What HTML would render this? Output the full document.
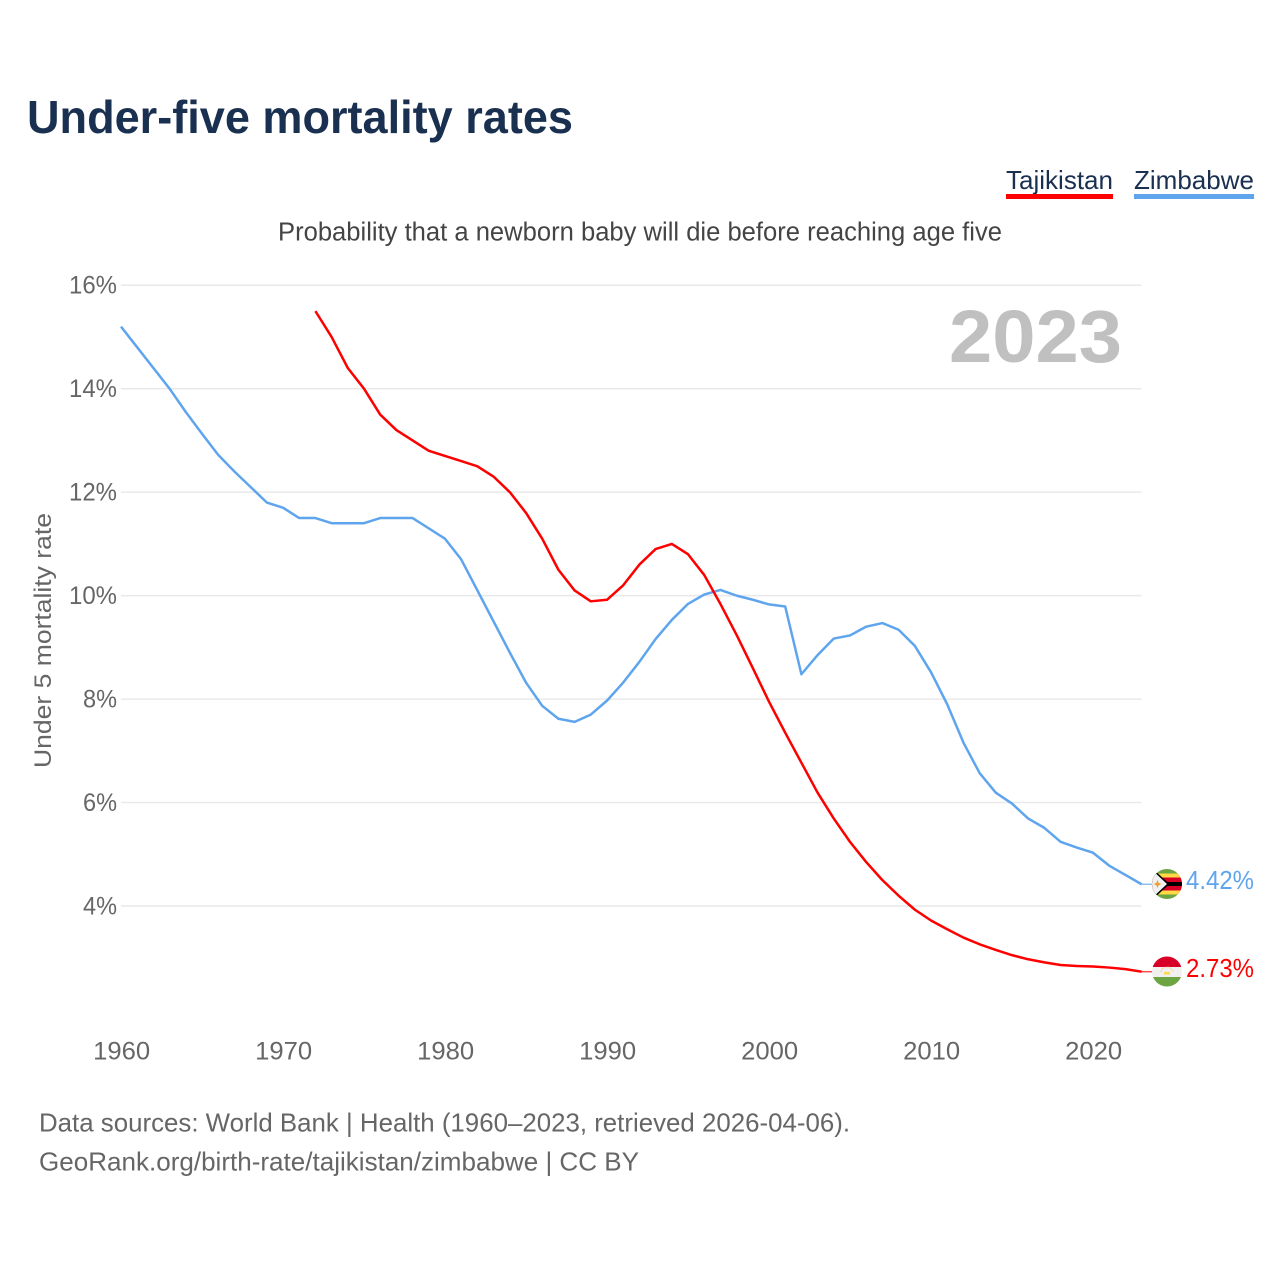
<!DOCTYPE html>
<html lang="en">
<head>
<meta charset="utf-8">
<title>Under-five mortality rates</title>
<style>
html,body{margin:0;padding:0;background:#fff;width:1280px;height:1280px;overflow:hidden}
svg{display:block}
text{font-family:"Liberation Sans",sans-serif}
</style>
</head>
<body>
<svg id="chart" xmlns="http://www.w3.org/2000/svg" width="1280" height="1280" viewBox="0 0 1280 1280">
  <defs>
    <clipPath id="flag-clip-zw"><circle cx="1167" cy="884" r="15"/></clipPath>
    <clipPath id="flag-clip-tj"><circle cx="1167" cy="971.5" r="15"/></clipPath>
  </defs>
  <text x="27" y="133" font-size="46" font-weight="700" fill="#1a3050" textLength="546" lengthAdjust="spacingAndGlyphs">Under-five mortality rates</text>

  <g>
    <text x="1006" y="189" font-size="26" fill="#1a3050" textLength="107" lengthAdjust="spacingAndGlyphs">Tajikistan</text>
    <rect x="1006" y="194" width="107" height="5" fill="#ff0000"/>
  </g>
  <g>
    <text x="1134" y="189" font-size="26" fill="#1a3050" textLength="120" lengthAdjust="spacingAndGlyphs">Zimbabwe</text>
    <rect x="1134" y="194" width="120" height="5" fill="#5fa5ee"/>
  </g>

  <text x="278" y="240.5" font-size="25.5" fill="#444" textLength="724" lengthAdjust="spacingAndGlyphs">Probability that a newborn baby will die before reaching age five</text>

  <g id="grid"></g>
  <g id="y-ticks"></g>
  <g id="x-ticks"></g>

  <text transform="translate(51,640.5) rotate(-90)" text-anchor="middle" font-size="24.5" fill="#666" textLength="255" lengthAdjust="spacingAndGlyphs">Under 5 mortality rate</text>

  <text x="949" y="362" font-size="74" font-weight="700" fill="#c0c0c0" textLength="173" lengthAdjust="spacingAndGlyphs">2023</text>

  <g id="series"></g>

  <g clip-path="url(#flag-clip-zw)">
    <rect x="1152" y="869" width="30" height="30" fill="#6da544"/>
    <rect x="1152" y="873.5" width="30" height="21" fill="#ffda44"/>
    <rect x="1152" y="877.5" width="30" height="13" fill="#d80027"/>
    <rect x="1152" y="882" width="30" height="4" fill="#000"/>
    <polygon points="1152,868 1169.5,884 1152,900" fill="#000"/>
    <polygon points="1150,868 1167,884 1150,900" fill="#f0f0f0"/>
    <polygon points="1157.5,880 1158.7,883 1161.5,884 1158.7,885.2 1157.5,888 1156.3,885.2 1153.5,884 1156.3,883" fill="#e8a030"/>
  </g>
  <g clip-path="url(#flag-clip-tj)">
    <rect x="1152" y="956" width="30" height="11" fill="#d80027"/>
    <rect x="1152" y="967" width="30" height="10" fill="#f0f0f0"/>
    <rect x="1152" y="977" width="30" height="10" fill="#6da544"/>
    <rect x="1164" y="972" width="6" height="2.5" fill="#ffda44"/>
    <path d="M1161 972 a6 5 0 0 1 12 0" fill="none" stroke="#f4c98a" stroke-width="1" stroke-dasharray="1.5 1.5"/>
  </g>

  <text id="value-zw" x="1186" y="889" font-size="25.5" fill="#5fa5ee" textLength="68" lengthAdjust="spacingAndGlyphs"></text>
  <text id="value-tj" x="1186" y="977" font-size="25.5" fill="#ff0000" textLength="68" lengthAdjust="spacingAndGlyphs"></text>

  <text x="39" y="1131.5" font-size="26" fill="#666" textLength="811" lengthAdjust="spacingAndGlyphs">Data sources: World Bank | Health (1960–2023, retrieved 2026-04-06).</text>
  <text x="39" y="1170.5" font-size="26" fill="#666" textLength="600" lengthAdjust="spacingAndGlyphs">GeoRank.org/birth-rate/tajikistan/zimbabwe | CC BY</text>
</svg>
<script>
const yTickValues = [16, 14, 12, 10, 8, 6, 4];
const xTickYears = [1960, 1970, 1980, 1990, 2000, 2010, 2020];
const zimbabweStartYear = 1960;
const zimbabweValues = [15.2, 14.8, 14.4, 14.0, 13.55, 13.13, 12.72, 12.4, 12.1, 11.8, 11.7, 11.5, 11.5, 11.4, 11.4, 11.4, 11.5, 11.5, 11.5, 11.3, 11.1, 10.7, 10.1, 9.5, 8.9, 8.32, 7.87, 7.62, 7.56, 7.7, 7.97, 8.32, 8.72, 9.16, 9.53, 9.84, 10.02, 10.11, 10.0, 9.92, 9.83, 9.79, 8.48, 8.85, 9.17, 9.23, 9.4, 9.47, 9.34, 9.03, 8.52, 7.9, 7.16, 6.57, 6.19, 5.98, 5.69, 5.51, 5.24, 5.13, 5.03, 4.78, 4.6, 4.42];
const tajikistanStartYear = 1972;
const tajikistanValues = [15.5, 15.0, 14.4, 14.0, 13.5, 13.2, 13.0, 12.8, 12.7, 12.6, 12.5, 12.3, 12.0, 11.6, 11.1, 10.5, 10.1, 9.89, 9.92, 10.2, 10.6, 10.9, 11.0, 10.8, 10.4, 9.84, 9.24, 8.6, 7.95, 7.35, 6.77, 6.19, 5.69, 5.24, 4.85, 4.5, 4.2, 3.93, 3.72, 3.55, 3.39, 3.26, 3.15, 3.05, 2.97, 2.91, 2.86, 2.84, 2.83, 2.81, 2.78, 2.73];

const NS = 'http://www.w3.org/2000/svg';
const xScale = function (year) { return 121 + (year - 1960) * 16.2; };
const yScale = function (value) { return 906 - (value - 4) * 51.73; };

function make(tag, attrs, parent) {
  const el = document.createElementNS(NS, tag);
  Object.keys(attrs).forEach(function (k) { el.setAttribute(k, attrs[k]); });
  parent.appendChild(el);
  return el;
}

const gridGroup = document.getElementById('grid');
const yGroup = document.getElementById('y-ticks');
const xGroup = document.getElementById('x-ticks');
const seriesGroup = document.getElementById('series');

yTickValues.forEach(function (v) {
  const line = make('line', { x1: 121, x2: 1141.5, y1: yScale(v), y2: yScale(v), stroke: '#e9e9e9', 'stroke-width': 1.5 }, gridGroup);
  
  
  const label = make('text', { x: 117, y: yScale(v) + 8.5, 'text-anchor': 'end', 'font-size': 25, fill: '#666', textLength: v >= 10 ? 48 : 34, lengthAdjust: 'spacingAndGlyphs' }, yGroup);
  label.textContent = v + '%';
  
  
});

xTickYears.forEach(function (year) {
  const label = make('text', { x: xScale(year) + 0.7, y: 1059.5, 'text-anchor': 'middle', 'font-size': 25, fill: '#666', textLength: 57, lengthAdjust: 'spacingAndGlyphs' }, xGroup);
  label.textContent = String(year);
  
  
});

function pointsFor(startYear, values) {
  return values.map(function (v, i) { return xScale(startYear + i).toFixed(2) + ',' + yScale(v).toFixed(2); }).join(' ');
}

const zimbabweLine = make('polyline', { points: pointsFor(zimbabweStartYear, zimbabweValues), fill: 'none', stroke: '#5fa5ee', 'stroke-width': 2.5, 'stroke-linejoin': 'round' }, seriesGroup);



const tajikistanLine = make('polyline', { points: pointsFor(tajikistanStartYear, tajikistanValues), fill: 'none', stroke: '#ff0000', 'stroke-width': 2.5, 'stroke-linejoin': 'round' }, seriesGroup);



const zimbabweLast = zimbabweValues[zimbabweValues.length - 1];
const tajikistanLast = tajikistanValues[tajikistanValues.length - 1];

const zimbabweConnector = make('line', { x1: xScale(2023), x2: 1153, y1: yScale(zimbabweLast), y2: yScale(zimbabweLast), stroke: '#5fa5ee', 'stroke-width': 1.5, opacity: 0.7 }, seriesGroup);



const tajikistanConnector = make('line', { x1: xScale(2023), x2: 1153, y1: yScale(tajikistanLast), y2: yScale(tajikistanLast), stroke: '#ff0000', 'stroke-width': 1.5, opacity: 0.7 }, seriesGroup);



document.getElementById('value-zw').textContent = zimbabweLast.toFixed(2) + '%';
document.getElementById('value-tj').textContent = tajikistanLast.toFixed(2) + '%';
</script>
</body>
</html>
